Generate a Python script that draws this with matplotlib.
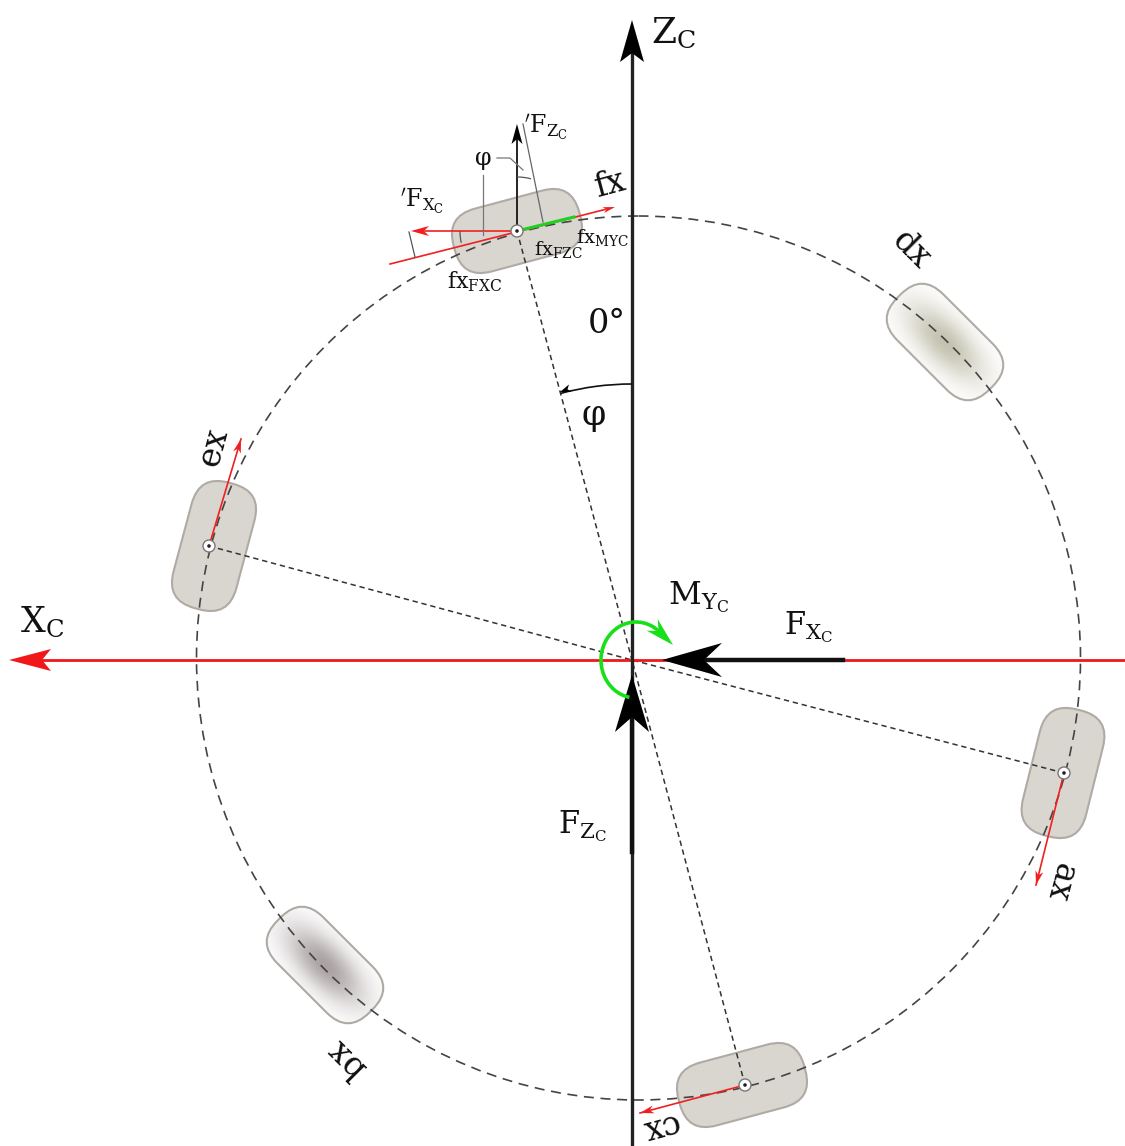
import numpy as np
import matplotlib
matplotlib.use('Agg')
import matplotlib.pyplot as plt
from matplotlib.patches import FancyBboxPatch, Circle, Arc, Polygon
from matplotlib.transforms import Affine2D

plt.rcParams['font.family'] = ['DejaVu Serif']
plt.rcParams['mathtext.fontset'] = 'dejavuserif'

W, H = 1125, 1146
center = (632, 660)
circle_center = (638.5, 658)
radius = 442

# wheels: name, centre in pixels, hub in pixels, long axis angle, end of red arrow
names = ['fx', 'dx', 'ax', 'cx', 'bx', 'ex']
wheel_x = [517, 945, 1063, 742, 325, 214]
wheel_y = [231, 342, 773, 1085, 965, 546]
wheel_ang = [-15, 45, -76, -15, 45, -75]
hub_x = [517, None, 1064, 745, None, 209]
hub_y = [231, None, 773, 1085, None, 546]
arrow_x = [615, None, 1036, 640, None, 241]
arrow_y = [207, None, 885, 1113, None, 439]
label_x = [610, 911, 1060, 660, 346, 214]
label_y = [184, 250, 882, 1127, 1058, 447]
label_rot = [15, -45, 255, 195, 135, 75]
shade = [None, '#c4c2b0', None, None, '#aaa2a2', None]

fill = '#d9d6cf'
edge = '#b0aaa5'

fig = plt.figure(figsize=(W / 100, H / 100), dpi=100)
ax = fig.add_axes([0, 0, 1, 1])
ax.axis('off')


def barbed(tip, ang, length, half, notch, color='k', z=6):
    # arrow head pointing along ang (degrees, screen pixels)
    t = np.radians(ang)
    d = np.array([np.cos(t), np.sin(t)])
    n = np.array([-d[1], d[0]])
    tip = np.array(tip, float)
    pts = [tip, tip - d * length + n * half, tip - d * notch, tip - d * length - n * half]
    ax.add_patch(Polygon(pts, closed=True, fc=color, ec='none', zorder=z))


def wheel(x, y, ang, col):
    tr = Affine2D().rotate_deg_around(x, y, ang) + ax.transData
    p = FancyBboxPatch((x - 38, y - 5.5), 76, 11, boxstyle='round,pad=27,rounding_size=30',
                       fc=fill if col is None else 'white', ec=edge, lw=1.5, zorder=2, transform=tr)
    ax.add_patch(p)
    if col is not None:
        # soft shading towards the middle of the worn-out wheels
        gx, gy = np.meshgrid(np.linspace(-70, 70, 141), np.linspace(-70, 70, 141))
        t = np.radians(ang)
        u = gx * np.cos(t) + gy * np.sin(t)
        v = -gx * np.sin(t) + gy * np.cos(t)
        a = np.exp(-(u / 50.0) ** 2 - (v / 22.0) ** 2)
        rgba = np.zeros(a.shape + (4,))
        rgba[..., :3] = matplotlib.colors.to_rgb(col)
        rgba[..., 3] = a
        im = ax.imshow(rgba, extent=(x - 70, x + 70, y + 70, y - 70), zorder=2.1, interpolation='bilinear')
        im.set_clip_path(p)


def hub(x, y):
    ax.add_patch(Circle((x, y), 6, fc='white', ec='#777777', lw=1, zorder=9))
    ax.add_patch(Circle((x, y), 1.8, fc='#222222', ec='none', zorder=10))


for i in range(6):
    wheel(wheel_x[i], wheel_y[i], wheel_ang[i], shade[i])

# dashed running circle and dashed radials
ax.add_patch(Circle(circle_center, radius, fc='none', ec='#444444', lw=1.2, ls=(0, (6, 4)), zorder=3))
for i in range(6):
    if hub_x[i] is not None:
        ax.plot([hub_x[i], center[0]], [hub_y[i], center[1]], color='#333333', lw=1.1, ls=(0, (3.5, 2.5)), zorder=3)

# global axes
ax.plot([1125, 30], [660, 660], color='#f01818', lw=2, zorder=4)
barbed((9, 660), 180, 42, 11, 33, color='#f01818')
ax.plot([632, 632], [1146, 45], color='#222222', lw=2.4, zorder=5)
barbed((632, 20), -90, 42, 12, 33)

# loads on the centre
ax.plot([843, 690], [660, 660], color='#111111', lw=3.2, zorder=5)
barbed((662, 660), 180, 60, 17, 42)
ax.plot([632, 632], [852, 710], color='#111111', lw=3.2, zorder=5)
barbed((632, 675), -90, 57, 17, 42)

# moment
ax.add_patch(Arc((636, 660), 70, 76, theta1=-260, theta2=-38, color='#18e018', lw=2.6, zorder=7))
barbed((673, 645), 44, 29, 8, 20, color='#18e018', z=7)

# azimuth arc
ax.add_patch(Arc(center, 552, 552, theta1=-105, theta2=-90, color='#111111', lw=1.2, zorder=5))
barbed((560, 392), 160, 11, 4, 8, z=5)

# red wheel force arrows
for i in range(6):
    if hub_x[i] is None:
        continue
    if names[i] == 'fx':
        ax.plot([390, 605], [264, 209.5], color='#f02020', lw=1.2, zorder=5)
        barbed((615, 207), -15, 12, 3, 9, color='#f02020')
    else:
        ang = np.degrees(np.arctan2(arrow_y[i] - hub_y[i], arrow_x[i] - hub_x[i]))
        ax.plot([hub_x[i], arrow_x[i]], [hub_y[i], arrow_y[i]], color='#f02020', lw=1.2, zorder=5)
        barbed((arrow_x[i], arrow_y[i]), ang, 14, 4, 10, color='#f02020')

# detail at the fx wheel
ax.plot([517, 574], [231, 217], color='#20d020', lw=2.2, zorder=6)
ax.plot([517, 425], [231, 231], color='#f02020', lw=1.2, zorder=6)
barbed((411, 231), 180, 18, 5, 13, color='#f02020')
ax.plot([517, 517], [231, 135], color='#222222', lw=1.4, zorder=6)
barbed((517, 124), -90, 20, 5.5, 15)
ax.plot([523, 543], [124, 222], color='#666666', lw=0.9, zorder=6)
ax.plot([483, 483], [175, 235], color='#777777', lw=0.9, zorder=6)
ax.plot([497, 510, 523], [158, 158, 170], color='#777777', lw=0.9, zorder=6)
ax.plot([409, 415], [232, 257], color='#555555', lw=0.9, zorder=6)
ax.add_patch(Arc((517, 231), 108, 108, theta1=-90, theta2=-75, color='#555555', lw=0.9, zorder=6))
ax.add_patch(Arc((517, 231), 114, 114, theta1=168, theta2=180, color='#555555', lw=0.9, zorder=6))

for i in range(6):
    if hub_x[i] is not None:
        hub(hub_x[i], hub_y[i])

# wheel names
for i in range(6):
    ax.text(label_x[i], label_y[i], names[i], fontsize=24, rotation=label_rot[i],
            rotation_mode='anchor', ha='center', va='center', color='#111111', zorder=12)

# force and axis labels
big = [(674, 33, r'$\mathrm{Z_C}$', 26), (42, 623, r'$\mathrm{X_C}$', 25),
       (699, 597, r'$\mathrm{M_{Y_C}}$', 23), (809, 627, r'$\mathrm{F_{X_C}}$', 22),
       (583, 826, r'$\mathrm{F_{Z_C}}$', 22), (607, 324, '0°', 24), (594, 415, 'φ', 25)]
small = [(546, 127, r"$\mathrm{'F_{Z_C}}$", 17), (422, 201, r"$\mathrm{'F_{X_C}}$", 17),
         (483, 159, 'φ', 17), (475, 282, r'$\mathrm{fx_{FXC}}$', 16),
         (558, 250, r'$\mathrm{fx_{FZC}}$', 14), (602, 238, r'$\mathrm{fx_{MYC}}$', 14)]
for x, y, s, fs in big + small:
    ax.text(x, y, s, fontsize=fs, ha='center', va='center', color='#111111', zorder=12)

ax.set_xlim(0, W)
ax.set_ylim(H, 0)
ax.set_aspect('auto')
fig.savefig('out.png', dpi=100, facecolor='white')
